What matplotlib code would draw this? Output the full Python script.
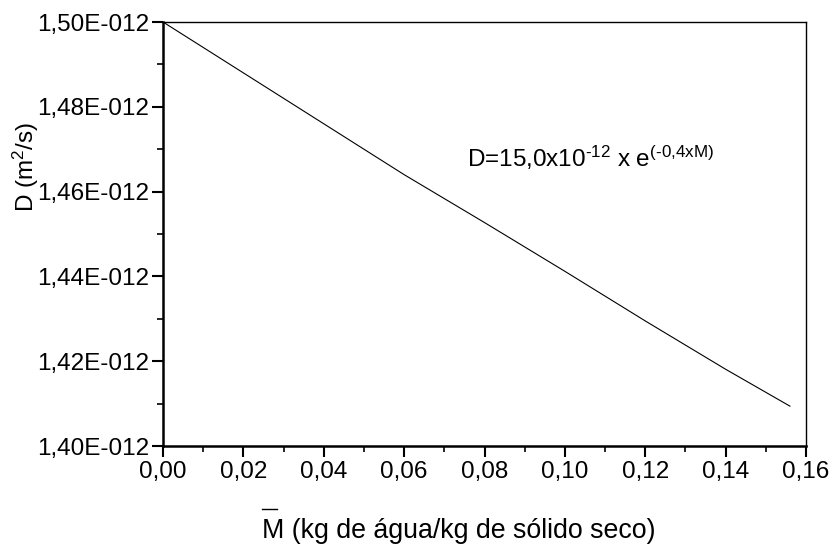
import matplotlib as mpl
import matplotlib.pyplot as plt
from matplotlib.lines import Line2D
from matplotlib.ticker import FuncFormatter, MultipleLocator

# values
M = [0.0, 0.02, 0.04, 0.06, 0.08, 0.10, 0.12, 0.14, 0.156]
D = [1.500e-12, 1.488e-12, 1.476e-12, 1.464e-12, 1.4527e-12,
     1.4412e-12, 1.4295e-12, 1.4181e-12, 1.4094e-12]

xticks = [0.0, 0.02, 0.04, 0.06, 0.08, 0.10, 0.12, 0.14, 0.16]
yticks = [1.40e-12, 1.42e-12, 1.44e-12, 1.46e-12, 1.48e-12, 1.50e-12]

mpl.rcParams.update({'font.family': 'Liberation Sans', 'font.size': 17.5,
                     'mathtext.fontset': 'custom',
                     'mathtext.rm': 'Liberation Sans',
                     'mathtext.it': 'Liberation Sans'})

dpi = 100
fig = plt.figure(dpi=dpi, figsize=(835 / dpi, 550 / dpi))
ax = fig.add_axes([163 / 835, 1 - 446 / 550, (806 - 163) / 835, (446 - 22) / 550])

ax.plot(M, D, color='black', lw=0.8)

ax.set_xlim(0, 0.16)
ax.set_ylim(1.40e-12, 1.50e-12)
ax.set_xticks(xticks)
ax.set_yticks(yticks)
ax.xaxis.set_minor_locator(MultipleLocator(0.01))
ax.yaxis.set_minor_locator(MultipleLocator(0.01e-12))
ax.xaxis.set_major_formatter(FuncFormatter(lambda v, p: ('%.2f' % v).replace('.', ',')))
ax.yaxis.set_major_formatter(FuncFormatter(lambda v, p: ('%.2fE-012' % (v * 1e12)).replace('.', ',')))

ax.tick_params(which='major', direction='out', length=8, width=1.5, labelsize=17.5)
ax.tick_params(which='minor', direction='out', length=4, width=1.2)
ax.tick_params(axis='x', pad=3)
ax.tick_params(axis='y', pad=2)
for s in ['left', 'bottom']:
    ax.spines[s].set_linewidth(1.8)
for s in ['top', 'right']:
    ax.spines[s].set_linewidth(1.0)

ax.text(0.0756, 1.4658e-12,
        'D=15,0x10$^{\\mathregular{\u201012}}$ x e$^{\\mathregular{(\u20100{,}4xM)}}$',
        fontsize=17.5, va='baseline')

fig.text(26 / 835, 1 - 167 / 550, 'D (m$^{\\mathregular{2}}$/s)', rotation=90,
         ha='center', va='center', fontsize=17.5)
fig.text(262 / 835, 1 - 538 / 550, 'M (kg de água/kg de sólido seco)',
         ha='left', va='baseline', fontsize=19.3)
fig.add_artist(Line2D([262 / 835, 277 / 835], [1 - 509 / 550, 1 - 509 / 550],
                      color='black', lw=1.0, transform=fig.transFigure))

fig.savefig('out.png', dpi=dpi)
